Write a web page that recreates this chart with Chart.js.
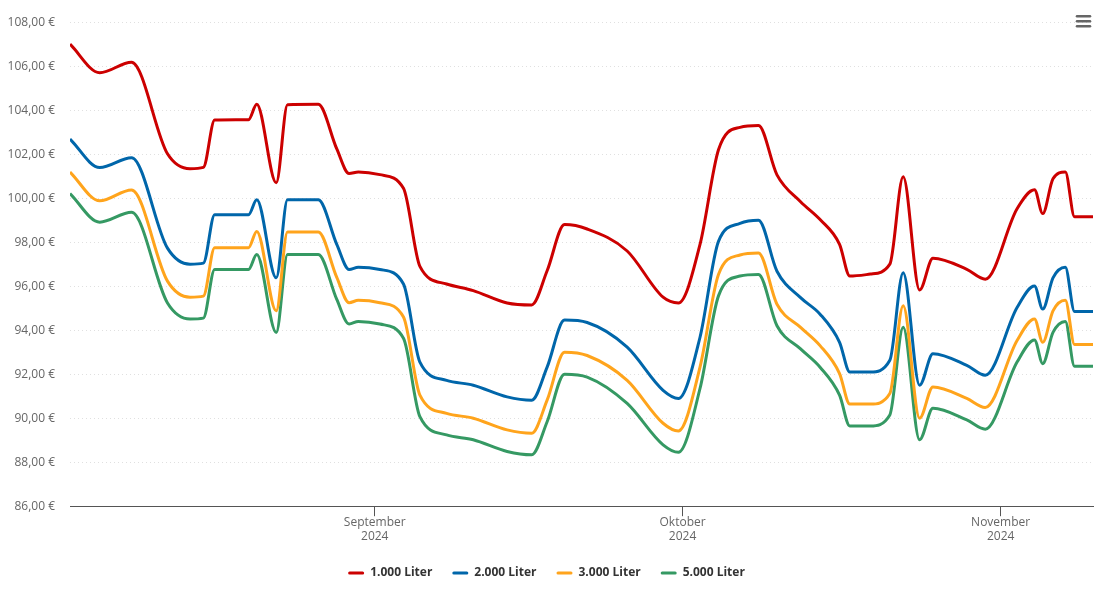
<!DOCTYPE html>
<html>
<head>
<meta charset="utf-8">
<title>Heizölpreise</title>
<script src="https://cdn.jsdelivr.net/npm/chart.js@4.4.1/dist/chart.umd.min.js"></script>
<style>
  html, body { margin: 0; padding: 0; background: #fff; }
  #wrap { position: relative; width: 1105px; height: 602px; }
</style>
</head>
<body>
<div id="wrap"><canvas id="myChart"></canvas></div>
<script>
// days counted from 1 September 2024
var dayOffsets = [-29.7, -26.8, -23.7, -20.2, -18.0, -16.7, -15.6, -12.3, -11.5, -9.6, -8.5, -5.5, -3.7, -2.5, -1.6,
    0.5, 2.8, 4.4, 7.0, 9.6, 12.9, 15.3, 16.8, 18.5, 20.7, 24.6, 28.1, 29.6,
    31.7, 33.5, 35.6, 37.4, 39.2, 41.5, 43.4, 45.3, 46.3, 48.3, 50.2, 51.5, 53.1, 54.4, 57.7, 59.5,
    62.6, 64.3, 65.1, 66.1, 67.3, 68.2, 70];

var liter1000 = [107.0, 105.70, 106.18, 102.02, 101.34, 101.4, 103.55, 103.57, 104.27, 100.7, 104.25, 104.27, 102.24, 101.12, 101.19,
    101.07, 100.45, 96.9, 96.1, 95.8, 95.24, 95.15, 96.7, 98.8, 98.6, 97.6, 95.5, 95.24,
    97.9, 102.2, 103.22, 103.3, 101.06, 99.84, 99.03, 97.9, 96.46, 96.55, 97.0, 100.97, 95.83, 97.27, 96.77, 96.32,
    99.52, 100.38, 99.3, 100.88, 101.19, 99.16, 99.16];
var liter2000 = [102.69, 101.39, 101.84, 97.73, 97.0, 97.05, 99.25, 99.25, 99.93, 96.38, 99.93, 99.93, 97.9, 96.76, 96.86,
    96.76, 96.1, 92.55, 91.72, 91.5, 90.97, 90.82, 92.32, 94.46, 94.35, 93.23, 91.27, 90.9,
    93.68, 98.04, 98.86, 99.0, 96.68, 95.48, 94.73, 93.45, 92.1, 92.1, 92.63, 96.61, 91.5, 92.93, 92.4, 91.95,
    95.03, 96.01, 94.96, 96.38, 96.86, 94.85, 94.85];
var liter3000 = [101.19, 99.88, 100.37, 96.23, 95.5, 95.55, 97.75, 97.75, 98.49, 94.88, 98.46, 98.46, 96.4, 95.25, 95.36,
    95.25, 94.6, 91.05, 90.22, 90.0, 89.47, 89.32, 90.82, 93.0, 92.85, 91.72, 89.77, 89.42,
    92.32, 96.53, 97.42, 97.51, 95.18, 94.13, 93.3, 92.03, 90.64, 90.64, 91.12, 95.11, 90.0, 91.42, 90.9, 90.49,
    93.53, 94.51, 93.45, 94.88, 95.36, 93.35, 93.35];
var liter5000 = [100.21, 98.91, 99.36, 95.24, 94.51, 94.55, 96.76, 96.76, 97.44, 93.9, 97.44, 97.44, 95.4, 94.28, 94.4,
    94.28, 93.63, 90.07, 89.24, 89.02, 88.49, 88.34, 89.84, 92.0, 91.87, 90.67, 88.79, 88.45,
    91.35, 95.56, 96.46, 96.53, 94.2, 93.15, 92.32, 91.05, 89.65, 89.65, 90.15, 94.13, 89.02, 90.45, 89.92, 89.5,
    92.55, 93.56, 92.48, 93.9, 94.4, 92.36, 92.36];

var seriesNames = ["1.000 Liter", "2.000 Liter", "3.000 Liter", "5.000 Liter"];
var seriesColours = ["#cc0000", "#0066aa", "#ffa41c", "#359963"];

var tickDays = [0, 30, 61];
var tickLabels = [["September", "2024"], ["Oktober", "2024"], ["November", "2024"]];

var toPoints = function(values){
    return values.map(function(v, i){
        return {x: dayOffsets[i], y: v};
    });
}

var allValues = [liter1000, liter2000, liter3000, liter5000];
var datasets = allValues.map(function(values, i){
    return {
        label: seriesNames[i],
        data: toPoints(values),
        borderColor: seriesColours[i],
        backgroundColor: seriesColours[i],
        borderWidth: 3,
        pointRadius: 0,
        pointHoverRadius: 4,
        cubicInterpolationMode: 'monotone',
        fill: false
    };
});

// export menu icon top right
var menuIcon = {
    id: 'menuIcon',
    afterDraw: function(chart){
        var ctx = chart.ctx;
        ctx.save();
        ctx.strokeStyle = "#666666";
        ctx.lineWidth = 2.5;
        ctx.lineCap = "round";
        [16.2, 21.2, 26.2].forEach(function(y){
            ctx.beginPath();
            ctx.moveTo(1077, y);
            ctx.lineTo(1090, y);
            ctx.stroke();
        });
        ctx.restore();
    }
};

Chart.defaults.font.family = '"Open Sans", "Noto Sans", sans-serif';
Chart.defaults.font.size = 12;

var ctx = document.getElementById("myChart");
var myChart = new Chart(ctx, {
    type: 'line',
    data: { datasets: datasets },
    plugins: [menuIcon],
    options: {
        responsive: true,
        maintainAspectRatio: false,
        animation: false,
        layout: { padding: { top: 17, right: 12, bottom: 13, left: 0 } },
        interaction: { mode: 'index', intersect: false },
        plugins: {
            legend: {
                position: 'bottom',
                labels: {
                    boxWidth: 16,
                    boxHeight: 3,
                    padding: 20,
                    color: "#333333",
                    font: { size: 12, weight: 'bold' },
                    generateLabels: function(chart){
                        var items = Chart.defaults.plugins.legend.labels.generateLabels(chart);
                        items.forEach(function(item){
                            item.lineWidth = 0;
                            item.fillStyle = item.strokeStyle;
                            item.borderRadius = 1.5;
                        });
                        return items;
                    }
                }
            },
            tooltip: {
                callbacks: {
                    label: function(c){
                        return c.dataset.label + ": " + c.parsed.y.toFixed(2).replace(".", ",") + " €";
                    }
                }
            }
        },
        scales: {
            x: {
                type: 'linear',
                min: -29.7,
                max: 70,
                afterBuildTicks: function(axis){
                    axis.ticks = tickDays.map(function(d){ return {value: d}; });
                },
                afterFit: function(axis){ axis.height += 4; },
                grid: {
                    drawOnChartArea: false,
                    drawTicks: true,
                    tickLength: 10,
                    tickColor: "#555555"
                },
                border: { display: true, color: "#555555", width: 1 },
                ticks: {
                    color: "#666666",
                    padding: -1,
                    maxRotation: 0,
                    autoSkip: false,
                    callback: function(value, index){
                        return tickLabels[index];
                    }
                }
            },
            y: {
                min: 86,
                max: 108,
                afterFit: function(axis){ axis.width = 70; },
                grid: {
                    color: "#e0e0e0",
                    drawTicks: false
                },
                border: { display: false, dash: [1, 3] },
                ticks: {
                    stepSize: 2,
                    padding: 15,
                    color: "#666666",
                    autoSkip: false,
                    callback: function(value){
                        return value.toFixed(2).replace(".", ",") + " €";
                    }
                }
            }
        }
    }
});
</script>
</body>
</html>
